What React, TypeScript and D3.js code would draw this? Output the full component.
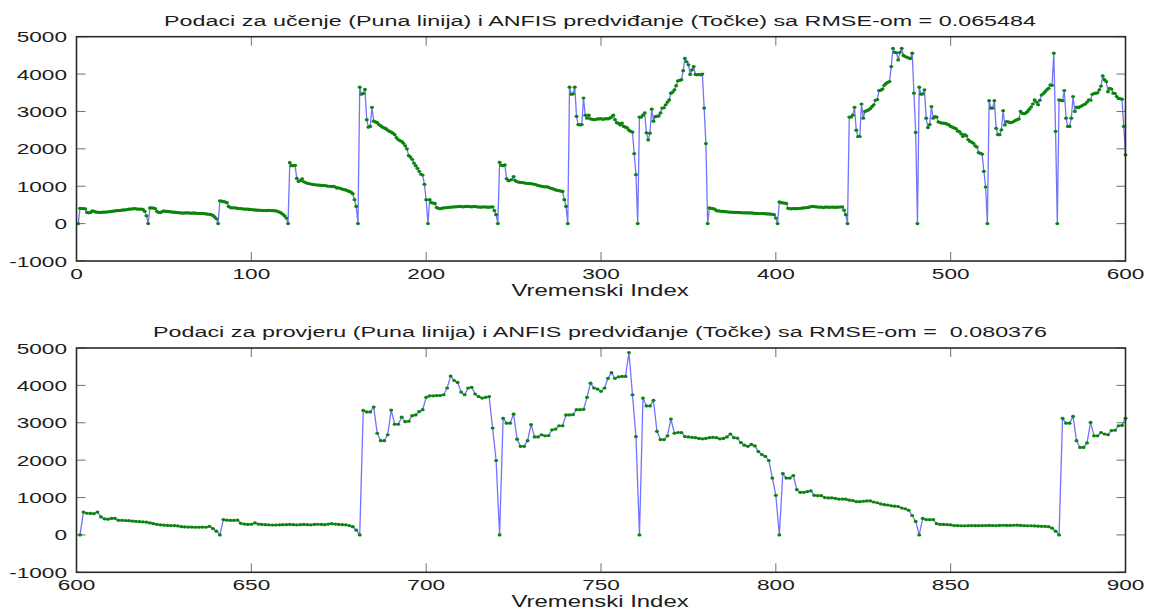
import React from 'react';
import * as d3 from 'd3';

// Training series, samples 1..600 (40 samples per day, each day starts at 0)
const trainValues: number[] = [
  0, 410, 405, 400, 395, 300, 290, 300, 340, 330, 310, 305, 300, 300, 305, 310, 310, 315, 320, 330,
  335, 340, 345, 350, 355, 360, 365, 370, 375, 385, 390, 395, 400, 395, 390, 385, 390, 380, 330, 210,
  0, 420, 420, 415, 405, 330, 300, 295, 320, 340, 330, 325, 320, 315, 310, 305, 300, 295, 290, 285,
  280, 285, 290, 285, 280, 280, 285, 280, 275, 275, 270, 270, 265, 260, 255, 250, 240, 220, 180, 130,
  0, 610, 600, 590, 580, 560, 460, 430, 420, 425, 420, 410, 405, 400, 395, 390, 390, 385, 380, 375,
  370, 365, 360, 360, 355, 355, 350, 350, 350, 355, 350, 350, 345, 340, 330, 310, 290, 250, 210, 150,
  0, 1630, 1550, 1550, 1560, 1210, 1130, 1150, 1200, 1120, 1100, 1080, 1070, 1060, 1050, 1040, 1040, 1030, 1030, 1025,
  1020, 1020, 1010, 1000, 1000, 990, 1000, 980, 950, 960, 940, 920, 910, 900, 880, 860, 840, 800, 640, 460,
  0, 3650, 3460, 3480, 3590, 2780, 2580, 2600, 3110, 2740, 2720, 2700, 2650, 2620, 2580, 2560, 2540, 2500, 2470, 2450,
  2420, 2380, 2300, 2250, 2220, 2200, 2150, 2080, 2000, 1820, 1780, 1720, 1620, 1550, 1480, 1400, 1320, 1300, 1050, 640,
  0, 640, 560, 550, 540, 430, 410, 400, 410, 420, 425, 430, 435, 440, 445, 450, 450, 455, 460, 455,
  450, 455, 460, 460, 455, 450, 455, 460, 450, 445, 440, 445, 450, 445, 440, 440, 445, 450, 350, 240,
  0, 1640, 1560, 1550, 1570, 1200, 1150, 1160, 1180, 1260, 1150, 1120, 1110, 1100, 1100, 1090, 1080, 1075, 1070, 1070,
  1060, 1050, 1040, 1020, 1010, 1000, 990, 980, 990, 970, 950, 940, 920, 900, 890, 880, 870, 860, 640, 460,
  0, 3650, 3460, 3470, 3650, 2870, 2650, 2640, 2650, 3360, 2900, 2820, 2900, 2800, 2790, 2780, 2790, 2800, 2800, 2810,
  2790, 2800, 2810, 2800, 2820, 2850, 2900, 2780, 2700, 2680, 2640, 2690, 2600, 2580, 2560, 2500, 2470, 2450, 1870, 1310,
  0, 2850, 2850, 2900, 2960, 2430, 2240, 2420, 3060, 2740, 2860, 2870, 2880, 2960, 3090, 3100, 3180, 3250, 3310, 3490,
  3520, 3580, 3690, 3820, 3830, 3850, 4090, 4420, 4330, 4250, 3990, 4110, 4200, 3990, 3980, 3990, 3980, 4000, 3090, 2140,
  0, 420, 410, 400, 390, 350, 340, 335, 330, 325, 320, 315, 310, 310, 305, 300, 300, 300, 295, 295,
  290, 290, 290, 285, 285, 285, 280, 275, 275, 270, 270, 270, 265, 265, 260, 260, 255, 250, 240, 150,
  0, 580, 560, 555, 550, 540, 410, 400, 395, 405, 400, 400, 405, 410, 415, 420, 425, 430, 440, 455,
  460, 455, 450, 445, 440, 445, 430, 440, 445, 440, 435, 445, 440, 435, 440, 445, 445, 450, 360, 240,
  0, 2850, 2850, 2900, 3110, 2500, 2330, 2330, 3200, 2820, 3000, 3020, 3040, 3080, 3130, 3180, 3300, 3320, 3560, 3570,
  3600, 3700, 3750, 3780, 3800, 4200, 4690, 4580, 4570, 4380, 4580, 4690, 4500, 4470, 4450, 4430, 4420, 4560, 3490, 2440,
  0, 3650, 3460, 3470, 3580, 2820, 2570, 2650, 3130, 2820, 2860, 2850, 2720, 2700, 2690, 2690, 2680, 2660, 2640, 2600,
  2580, 2560, 2540, 2480, 2460, 2400, 2330, 2380, 2350, 2250, 2200, 2180, 2150, 2080, 2050, 1900, 1880, 1860, 1400, 980,
  0, 3290, 3090, 3090, 3290, 2550, 2380, 2380, 2510, 3020, 2640, 2730, 2720, 2700, 2710, 2730, 2760, 2780, 2800, 3000,
  2950, 2940, 2960, 3000, 3060, 3120, 3200, 3310, 3250, 3180, 3300, 3440, 3480, 3530, 3580, 3620, 3710, 3700, 4560, 2470,
  0, 3310, 3300, 3290, 3560, 2820, 2600, 2600, 2820, 3400, 3000, 3120, 3100, 3130, 3150, 3180, 3200, 3250, 3310, 3300,
  3460, 3480, 3490, 3500, 3580, 3680, 3950, 3850, 3800, 3530, 3620, 3600, 3490, 3480, 3400, 3350, 3340, 3330, 2600, 1840,
];

// Checking series, samples 601..900
const checkValues: number[] = [
  0, 610, 580, 575, 570, 610, 480, 430, 420, 440, 445, 390, 390, 385, 380, 370, 360, 355, 350, 340,
  320, 300, 280, 270, 260, 255, 250, 250, 240, 220, 215, 210, 210, 205, 205, 210, 205, 230, 170, 100,
  0, 410, 395, 390, 390, 395, 310, 290, 280, 285, 320, 290, 280, 275, 270, 265, 265, 270, 275, 275,
  280, 275, 270, 275, 280, 275, 270, 280, 285, 280, 275, 290, 300, 290, 280, 275, 270, 250, 220, 130,
  0, 3330, 3290, 3290, 3420, 2720, 2520, 2520, 2680, 3340, 2960, 2960, 3150, 3030, 3040, 3190, 3210, 3300, 3350, 3680,
  3720, 3720, 3730, 3730, 3750, 3930, 4250, 4130, 4080, 3820, 3750, 3930, 3950, 3770, 3700, 3660, 3680, 3700, 2860, 1990,
  0, 3120, 2990, 2990, 3230, 2560, 2370, 2370, 2520, 2950, 2620, 2620, 2680, 2650, 2660, 2810, 2830, 2920, 2920, 3210,
  3210, 3220, 3350, 3350, 3360, 3680, 4060, 3930, 3900, 3840, 3930, 4190, 4340, 4190, 4230, 4240, 4240, 4880, 3750, 2630,
  0, 3660, 3450, 3450, 3600, 2770, 2550, 2550, 2650, 3100, 2720, 2740, 2740, 2630, 2620, 2610, 2600, 2580, 2570, 2580,
  2600, 2610, 2600, 2570, 2580, 2620, 2700, 2600, 2590, 2470, 2400, 2370, 2420, 2380, 2230, 2150, 2100, 1990, 1520, 1060,
  0, 1640, 1520, 1520, 1590, 1210, 1140, 1140, 1160, 1180, 1060, 1050, 1050, 1000, 990, 990, 980, 960, 960, 955,
  930, 920, 890, 890, 900, 910, 910, 880, 860, 830, 810, 800, 780, 770, 760, 720, 700, 660, 520, 360,
  0, 440, 410, 410, 410, 300, 280, 280, 275, 270, 250, 250, 245, 245, 250, 250, 248, 250, 250, 252,
  255, 252, 250, 255, 258, 255, 255, 258, 260, 255, 250, 245, 245, 240, 235, 230, 228, 220, 180, 100,
  0, 3120, 2990, 2990, 3170, 2520, 2340, 2340, 2460, 3010, 2650, 2650, 2740, 2700, 2680, 2790, 2800, 2920, 2930, 3120,
];

const trainTicksX = [0, 100, 200, 300, 400, 500, 600];
const checkTicksX = [600, 650, 700, 750, 800, 850, 900];
const yTicks = [-1000, 0, 1000, 2000, 3000, 4000, 5000];

const trainTitle = 'Podaci za učenje (Puna linija) i ANFIS predviđanje (Točke) sa RMSE-om = 0.065484';
const checkTitle = 'Podaci za provjeru (Puna linija) i ANFIS predviđanje (Točke) sa RMSE-om =  0.080376';
const xLabel = 'Vremenski Index';

const W = 1150;
const H = 612;
const LEFT = 76.5;
const RIGHT = 1125.5;
const PANEL_H = 224.3;
const TICK_LEN = 9;
const FONT = '"Liberation Sans", Arial, Helvetica, sans-serif';

type STextProps = {
  x: number;
  y: number;
  size: number;
  sx: number;
  anchor?: 'start' | 'middle' | 'end';
  dy?: string;
  children: React.ReactNode;
};

// Text that is widened horizontally about its anchor point
function SText({ x, y, size, sx, anchor = 'middle', dy, children }: STextProps) {
  return (
    <text
      transform={`translate(${x},${y}) scale(${sx},1)`}
      textAnchor={anchor}
      fontSize={size}
      fontFamily={FONT}
      fill="#1c1c1c"
      dy={dy}
      style={{ whiteSpace: 'pre' }}
    >
      {children}
    </text>
  );
}

type PanelProps = {
  top: number;
  values: number[];
  firstIndex: number;
  xDomain: [number, number];
  xTicks: number[];
  title: string;
};

function Panel({ top, values, firstIndex, xDomain, xTicks, title }: PanelProps) {
  const bottom = top + PANEL_H;
  const x = d3.scaleLinear().domain(xDomain).range([LEFT, RIGHT]);
  const y = d3.scaleLinear().domain([-1000, 5000]).range([bottom, top]);
  const pts: [number, number][] = values.map((v, i) => [firstIndex + i, v]);
  const line = d3
    .line<[number, number]>()
    .x((d) => x(d[0]))
    .y((d) => y(d[1]));

  return (
    <g>
      {/* ticks pointing inwards on all four sides */}
      <g stroke="#707070" strokeWidth={1}>
        {xTicks.map((t) => (
          <g key={`xt${t}`}>
            <line x1={x(t)} x2={x(t)} y1={bottom} y2={bottom - TICK_LEN} />
            <line x1={x(t)} x2={x(t)} y1={top} y2={top + TICK_LEN} />
          </g>
        ))}
        {yTicks.map((t) => (
          <g key={`yt${t}`}>
            <line x1={LEFT} x2={LEFT + TICK_LEN} y1={y(t)} y2={y(t)} />
            <line x1={RIGHT} x2={RIGHT - TICK_LEN} y1={y(t)} y2={y(t)} />
          </g>
        ))}
      </g>

      {/* measured series as a solid line */}
      <path d={line(pts) ?? ''} fill="none" stroke="#5b5bff" strokeWidth={1.3} strokeOpacity={0.85} />

      {/* ANFIS output as dots */}
      <g fill="#0b840b">
        {pts.map((d, i) => (
          <ellipse key={i} cx={x(d[0])} cy={y(d[1])} rx={2} ry={1.6} />
        ))}
      </g>

      {/* frame */}
      <rect
        x={LEFT}
        y={top}
        width={RIGHT - LEFT}
        height={PANEL_H}
        fill="none"
        stroke="#2a2a2a"
        strokeWidth={1.6}
      />

      {yTicks.map((t) => (
        <SText key={`yl${t}`} x={67} y={y(t)} size={15.5} sx={1.46} anchor="end" dy="0.36em">
          {t}
        </SText>
      ))}
      {xTicks.map((t) => (
        <SText key={`xl${t}`} x={x(t)} y={bottom + 18} size={15.5} sx={1.46}>
          {t}
        </SText>
      ))}

      <SText x={600} y={top - 11} size={15} sx={1.556}>
        {title}
      </SText>
      <SText x={600} y={bottom + 35} size={16.5} sx={1.45}>
        {xLabel}
      </SText>
    </g>
  );
}

export default function App() {
  return (
    <svg
      width={W}
      height={H}
      viewBox={`0 0 ${W} ${H}`}
      style={{ position: 'absolute', left: 0, top: 0, background: '#ffffff' }}
    >
      <rect x={0} y={0} width={W} height={H} fill="#ffffff" />
      <Panel
        top={36.7}
        values={trainValues}
        firstIndex={1}
        xDomain={[0, 600]}
        xTicks={trainTicksX}
        title={trainTitle}
      />
      <Panel
        top={348}
        values={checkValues}
        firstIndex={601}
        xDomain={[600, 900]}
        xTicks={checkTicksX}
        title={checkTitle}
      />
    </svg>
  );
}
